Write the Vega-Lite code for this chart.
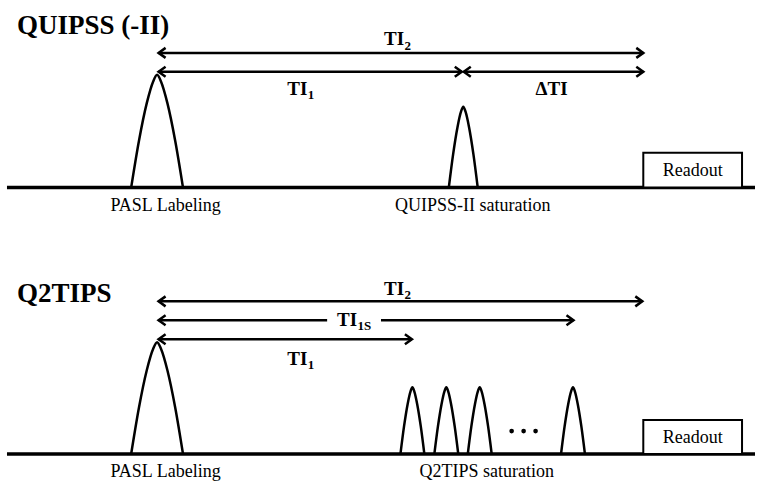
{
  "$schema": "https://vega.github.io/schema/vega-lite/v6.json",
  "width": 757,
  "height": 481,
  "padding": 0,
  "autosize": {"type": "fit", "contains": "padding"},
  "background": "white",
  "config": {"view": {"stroke": null}},
  "datasets": {
    "baselines": [{"x": 7, "x2": 757, "y": 188}, {"x": 7, "x2": 757, "y": 455}],
    "segments": [
      {"x": 159, "x2": 645, "y": 53},
      {"x": 159, "x2": 463, "y": 72},
      {"x": 465, "x2": 645, "y": 72},
      {"x": 159, "x2": 644, "y": 302},
      {"x": 159, "x2": 328, "y": 321},
      {"x": 382, "x2": 575, "y": 321},
      {"x": 159, "x2": 413, "y": 340}
    ],
    "heads": [
      {"x": 159, "y": 53, "dir": 180}, {"x": 645, "y": 53, "dir": 0},
      {"x": 159, "y": 72, "dir": 180}, {"x": 463, "y": 72, "dir": 0},
      {"x": 465, "y": 72, "dir": 180}, {"x": 645, "y": 72, "dir": 0},
      {"x": 159, "y": 302, "dir": 180}, {"x": 644, "y": 302, "dir": 0},
      {"x": 159, "y": 321, "dir": 180}, {"x": 575, "y": 321, "dir": 0},
      {"x": 159, "y": 340, "dir": 180}, {"x": 413, "y": 340, "dir": 0}
    ],
    "pulses": [
      {"p": "A", "i": 0, "x": 131.5, "y": 188}, {"p": "A", "i": 1, "x": 139.3, "y": 141.2}, {"p": "A", "i": 2, "x": 147.1, "y": 103.6}, {"p": "A", "i": 3, "x": 153.6, "y": 81.6}, {"p": "A", "i": 4, "x": 157.5, "y": 75}, {"p": "A", "i": 5, "x": 161.4, "y": 81.6}, {"p": "A", "i": 6, "x": 167.9, "y": 103.6}, {"p": "A", "i": 7, "x": 175.7, "y": 141.2}, {"p": "A", "i": 8, "x": 183.5, "y": 188},
      {"p": "B", "i": 0, "x": 450, "y": 188}, {"p": "B", "i": 1, "x": 454.35, "y": 154.5}, {"p": "B", "i": 2, "x": 458.7, "y": 127.5}, {"p": "B", "i": 3, "x": 462.3, "y": 111.7}, {"p": "B", "i": 4, "x": 464.5, "y": 107}, {"p": "B", "i": 5, "x": 466.7, "y": 111.7}, {"p": "B", "i": 6, "x": 470.3, "y": 127.5}, {"p": "B", "i": 7, "x": 474.65, "y": 154.5}, {"p": "B", "i": 8, "x": 479, "y": 188},
      {"p": "C", "i": 0, "x": 131.5, "y": 455}, {"p": "C", "i": 1, "x": 139.3, "y": 408.6}, {"p": "C", "i": 2, "x": 147.1, "y": 371.3}, {"p": "C", "i": 3, "x": 153.6, "y": 349.5}, {"p": "C", "i": 4, "x": 157.5, "y": 343}, {"p": "C", "i": 5, "x": 161.4, "y": 349.5}, {"p": "C", "i": 6, "x": 167.9, "y": 371.3}, {"p": "C", "i": 7, "x": 175.7, "y": 408.6}, {"p": "C", "i": 8, "x": 183.5, "y": 455},
      {"p": "D", "i": 0, "x": 401.5, "y": 455}, {"p": "D", "i": 1, "x": 405.1, "y": 427.3}, {"p": "D", "i": 2, "x": 408.7, "y": 405}, {"p": "D", "i": 3, "x": 411.7, "y": 391.9}, {"p": "D", "i": 4, "x": 413.5, "y": 388}, {"p": "D", "i": 5, "x": 415.3, "y": 391.9}, {"p": "D", "i": 6, "x": 418.3, "y": 405}, {"p": "D", "i": 7, "x": 421.9, "y": 427.3}, {"p": "D", "i": 8, "x": 425.5, "y": 455},
      {"p": "E", "i": 0, "x": 435.5, "y": 455}, {"p": "E", "i": 1, "x": 439.1, "y": 427.3}, {"p": "E", "i": 2, "x": 442.7, "y": 405}, {"p": "E", "i": 3, "x": 445.7, "y": 391.9}, {"p": "E", "i": 4, "x": 447.5, "y": 388}, {"p": "E", "i": 5, "x": 449.3, "y": 391.9}, {"p": "E", "i": 6, "x": 452.3, "y": 405}, {"p": "E", "i": 7, "x": 455.9, "y": 427.3}, {"p": "E", "i": 8, "x": 459.5, "y": 455},
      {"p": "F", "i": 0, "x": 469, "y": 455}, {"p": "F", "i": 1, "x": 472.6, "y": 427.3}, {"p": "F", "i": 2, "x": 476.2, "y": 405}, {"p": "F", "i": 3, "x": 479.2, "y": 391.9}, {"p": "F", "i": 4, "x": 481, "y": 388}, {"p": "F", "i": 5, "x": 482.8, "y": 391.9}, {"p": "F", "i": 6, "x": 485.8, "y": 405}, {"p": "F", "i": 7, "x": 489.4, "y": 427.3}, {"p": "F", "i": 8, "x": 493, "y": 455},
      {"p": "G", "i": 0, "x": 562.5, "y": 455}, {"p": "G", "i": 1, "x": 566.1, "y": 427.3}, {"p": "G", "i": 2, "x": 569.7, "y": 405}, {"p": "G", "i": 3, "x": 572.7, "y": 391.9}, {"p": "G", "i": 4, "x": 574.5, "y": 388}, {"p": "G", "i": 5, "x": 576.3, "y": 391.9}, {"p": "G", "i": 6, "x": 579.3, "y": 405}, {"p": "G", "i": 7, "x": 582.9, "y": 427.3}, {"p": "G", "i": 8, "x": 586.5, "y": 455}
    ],
    "boxes": [{"x": 645, "x2": 744, "y": 153, "y2": 188}, {"x": 645, "x2": 744, "y": 421, "y2": 455}],
    "boxtext": [{"x": 694.5, "y": 176, "text": "Readout"}, {"x": 694.5, "y": 444, "text": "Readout"}],
    "dots": [{"x": 513, "y": 432}, {"x": 525, "y": 432}, {"x": 537, "y": 432}],
    "titles": [{"x": 17, "y": 34, "text": "QUIPSS (-II)"}, {"x": 17, "y": 303, "text": "Q2TIPS"}],
    "timain": [
      {"x": 385, "y": 45, "text": "TI"}, {"x": 288, "y": 95, "text": "TI"}, {"x": 537, "y": 95, "text": "ΔTI"},
      {"x": 385, "y": 296, "text": "TI"}, {"x": 338, "y": 327, "text": "TI"}, {"x": 288, "y": 366, "text": "TI"}
    ],
    "tisub": [
      {"x": 405.5, "y": 50, "text": "2"}, {"x": 308.5, "y": 99, "text": "1"},
      {"x": 405.5, "y": 300, "text": "2"}, {"x": 358.5, "y": 331, "text": "1S"}, {"x": 308.5, "y": 370, "text": "1"}
    ],
    "labels": [
      {"x": 166, "y": 211, "text": "PASL Labeling"}, {"x": 474, "y": 211, "text": "QUIPSS-II saturation"},
      {"x": 166, "y": 478, "text": "PASL Labeling"}, {"x": 488, "y": 478, "text": "Q2TIPS saturation"}
    ]
  },
  "encoding": {
    "x": {"field": "x", "type": "quantitative", "scale": {"domain": [0, 757], "nice": false, "zero": false}, "axis": null},
    "y": {"field": "y", "type": "quantitative", "scale": {"domain": [0, 481], "nice": false, "zero": false, "reverse": true}, "axis": null}
  },
  "layer": [
    {
      "data": {"name": "baselines"},
      "mark": {"type": "rule", "stroke": "black", "strokeWidth": 3.5, "strokeCap": "butt"},
      "encoding": {"x2": {"field": "x2"}}
    },
    {
      "data": {"name": "segments"},
      "mark": {"type": "rule", "stroke": "black", "strokeWidth": 2.5, "strokeCap": "butt"},
      "encoding": {"x2": {"field": "x2"}}
    },
    {
      "data": {"name": "heads"},
      "mark": {"type": "point", "shape": "M -1.4 -1 L 0 0 L -1.4 1", "filled": false, "stroke": "black", "strokeWidth": 2.5, "opacity": 1, "size": 100, "strokeJoin": "miter"},
      "encoding": {"angle": {"field": "dir", "type": "quantitative", "scale": null}}
    },
    {
      "data": {"name": "pulses"},
      "mark": {"type": "line", "stroke": "black", "strokeWidth": 2.5, "interpolate": "monotone"},
      "encoding": {"detail": {"field": "p"}, "order": {"field": "i", "type": "quantitative"}}
    },
    {
      "data": {"name": "boxes"},
      "mark": {"type": "rect", "fill": "white", "stroke": "black", "strokeWidth": 2},
      "encoding": {"x2": {"field": "x2"}, "y2": {"field": "y2"}}
    },
    {
      "data": {"name": "boxtext"},
      "mark": {"type": "text", "font": "Liberation Serif", "fontSize": 18, "align": "center", "baseline": "alphabetic", "color": "black"},
      "encoding": {"text": {"field": "text"}}
    },
    {
      "data": {"name": "dots"},
      "mark": {"type": "point", "shape": "circle", "filled": true, "color": "black", "opacity": 1, "size": 22}
    },
    {
      "data": {"name": "titles"},
      "mark": {"type": "text", "font": "Liberation Serif", "fontWeight": "bold", "fontSize": 27, "align": "left", "baseline": "alphabetic", "color": "black"},
      "encoding": {"text": {"field": "text"}}
    },
    {
      "data": {"name": "timain"},
      "mark": {"type": "text", "font": "Liberation Serif", "fontWeight": "bold", "fontSize": 19, "align": "left", "baseline": "alphabetic", "color": "black"},
      "encoding": {"text": {"field": "text"}}
    },
    {
      "data": {"name": "tisub"},
      "mark": {"type": "text", "font": "Liberation Serif", "fontWeight": "bold", "fontSize": 13, "align": "left", "baseline": "alphabetic", "color": "black"},
      "encoding": {"text": {"field": "text"}}
    },
    {
      "data": {"name": "labels"},
      "mark": {"type": "text", "font": "Liberation Serif", "fontSize": 18, "align": "center", "baseline": "alphabetic", "color": "black"},
      "encoding": {"text": {"field": "text"}}
    }
  ]
}
